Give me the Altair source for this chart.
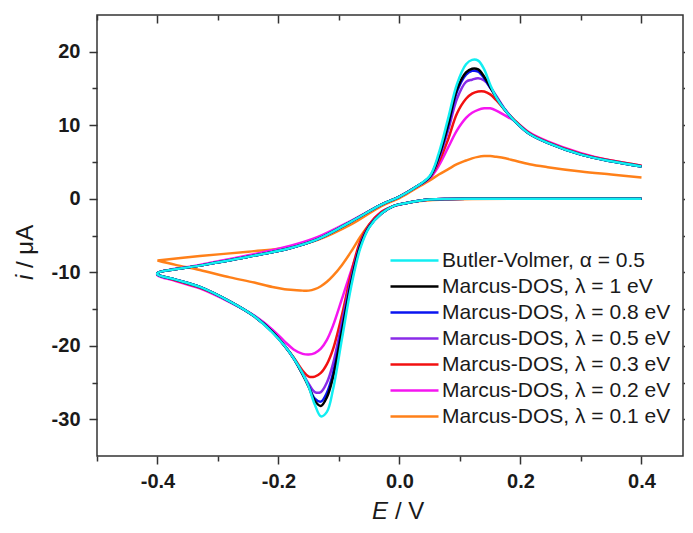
import altair as alt
import pandas as pd

SERIES = ["Butler-Volmer, α = 0.5", "Marcus-DOS, λ = 1 eV", "Marcus-DOS, λ = 0.8 eV",
          "Marcus-DOS, λ = 0.5 eV", "Marcus-DOS, λ = 0.3 eV", "Marcus-DOS, λ = 0.2 eV",
          "Marcus-DOS, λ = 0.1 eV"]
COLORS = ["#12EEF2", "#000000", "#0A14F0", "#8A2BE8", "#F21010", "#F516F0", "#FF8019"]

# reverse scan (0.4 V -> -0.4 V)
E_REV = [0.40, 0.30, 0.20, 0.12, 0.08, 0.05, 0.03, 0.01, -0.01, -0.03, -0.05, -0.065, -0.08,
         -0.095, -0.11, -0.12, -0.13, -0.14, -0.15, -0.16, -0.175, -0.19, -0.21, -0.24, -0.28,
         -0.33, -0.37, -0.40]
# forward scan (-0.4 V -> 0.4 V)
E_FWD = [-0.40, -0.33, -0.25, -0.18, -0.135, -0.08, -0.03, 0.0, 0.025, 0.05, 0.065, 0.08, 0.095,
         0.11, 0.12, 0.13, 0.14, 0.15, 0.16, 0.175, 0.19, 0.215, 0.245, 0.30, 0.35, 0.40]

BV_REV = [0, 0, 0, 0, -0.02, -0.1, -0.3, -0.6, -1.0, -2.0, -3.9, -6.8, -12.0, -19.0, -26.0, -29.0,
          -29.6, -28.0, -25.6, -23.8, -21.7, -20.0, -18.2, -16.0, -14.0, -12.0, -11.0, -10.3]
BV_FWD = [-10.1, -9.1, -7.9, -6.7, -5.5, -3.1, -0.8, 0.3, 1.5, 3.1, 6.2, 10.8, 15.6, 18.3, 18.9,
          18.8, 17.6, 15.5, 13.8, 12.0, 10.6, 8.8, 7.6, 6.0, 5.1, 4.4]

L10_REV = [0, 0, 0, 0, -0.02, -0.1, -0.3, -0.6, -1.0, -2.0, -3.8, -6.5, -11.5, -18.0, -24.3, -27.0,
           -28.2, -27.5, -25.6, -23.9, -21.7, -20.0, -18.1, -16.0, -14.0, -12.0, -11.0, -10.3]
L10_FWD = [-10.1, -9.1, -7.9, -6.7, -5.5, -3.1, -0.8, 0.3, 1.5, 3.0, 5.8, 10.0, 14.9, 17.2, 17.7,
           17.6, 16.6, 15.2, 13.8, 12.0, 10.6, 8.8, 7.6, 6.0, 5.1, 4.4]

L08_REV = [0, 0, 0, 0, -0.02, -0.1, -0.3, -0.6, -1.0, -2.0, -3.8, -6.4, -11.3, -17.6, -23.8, -26.4,
           -27.6, -27.2, -25.5, -23.9, -21.7, -20.0, -18.1, -16.0, -14.0, -12.0, -11.0, -10.3]
L08_FWD = [-10.1, -9.1, -7.9, -6.7, -5.5, -3.1, -0.8, 0.3, 1.5, 3.0, 5.7, 9.8, 14.6, 16.9, 17.4,
           17.3, 16.4, 15.1, 13.8, 12.0, 10.6, 8.8, 7.6, 6.0, 5.1, 4.4]

L05_REV = [0, 0, 0, 0, -0.02, -0.1, -0.3, -0.6, -1.0, -2.0, -3.7, -6.3, -11.0, -16.8, -22.5, -25.0,
           -26.3, -26.3, -25.2, -23.8, -21.7, -20.0, -18.1, -16.0, -14.0, -12.0, -11.0, -10.3]
L05_FWD = [-10.1, -9.1, -7.9, -6.7, -5.5, -3.1, -0.8, 0.3, 1.5, 2.9, 5.5, 9.2, 13.6, 15.9, 16.2,
           16.4, 16.1, 15.2, 14.0, 12.1, 10.6, 8.8, 7.6, 6.0, 5.1, 4.4]

L03_REV = [0, 0, 0, 0, -0.02, -0.1, -0.3, -0.6, -1.0, -1.8, -3.5, -5.8, -10.2, -15.8, -20.5, -22.5,
           -23.7, -24.2, -24.2, -23.4, -21.6, -20.0, -18.1, -16.0, -14.0, -12.1, -11.1, -10.3]
L03_FWD = [-10.1, -9.1, -7.9, -6.7, -5.5, -3.1, -0.8, 0.3, 1.5, 2.9, 5.0, 8.0, 11.6, 13.6, 14.3,
           14.6, 14.6, 14.2, 13.4, 12.0, 10.7, 8.9, 7.7, 6.1, 5.2, 4.5]

L02_REV = [0, 0, 0, 0, -0.02, -0.1, -0.3, -0.6, -1.0, -1.8, -3.6, -6.3, -9.8, -13.6, -17.3, -19.2,
           -20.4, -21.0, -21.2, -21.1, -20.5, -19.4, -17.8, -15.9, -14.1, -12.2, -11.2, -10.4]
L02_FWD = [-10.1, -9.0, -7.7, -6.4, -5.2, -3.0, -0.8, 0.3, 1.5, 2.8, 4.5, 6.9, 9.3, 11.0, 11.7,
           12.1, 12.3, 12.3, 12.0, 11.3, 10.6, 9.0, 7.8, 6.2, 5.2, 4.5]

L01_REV = [0, 0, 0, -0.02, -0.1, -0.2, -0.35, -0.6, -1.0, -2.0, -3.5, -5.2, -7.2, -9.0, -10.5,
           -11.3, -11.9, -12.3, -12.5, -12.5, -12.4, -12.3, -12.0, -11.4, -10.7, -9.7, -9.0, -8.4]
L01_FWD = [-8.4, -7.8, -7.2, -6.6, -5.6, -3.5, -1.0, 0.1, 1.3, 2.5, 3.3, 4.0, 4.7, 5.2, 5.5,
           5.7, 5.8, 5.8, 5.7, 5.5, 5.2, 4.7, 4.3, 3.7, 3.3, 2.9]

CURVES = {
    SERIES[6]: (L01_REV, L01_FWD),
    SERIES[5]: (L02_REV, L02_FWD),
    SERIES[4]: (L03_REV, L03_FWD),
    SERIES[3]: (L05_REV, L05_FWD),
    SERIES[2]: (L08_REV, L08_FWD),
    SERIES[1]: (L10_REV, L10_FWD),
    SERIES[0]: (BV_REV, BV_FWD),
}

rows = []
for name, (rev, fwd) in CURVES.items():
    k = 0
    for e, v in zip(E_REV, rev):
        rows.append({"series": name, "E": e, "i": v, "idx": k}); k += 1
    for e, v in zip(E_FWD, fwd):
        rows.append({"series": name, "E": e, "i": v, "idx": k}); k += 1
df = pd.DataFrame(rows)

X_MAJOR = [-0.4, -0.2, 0.0, 0.2, 0.4]
X_MINOR = [-0.5, -0.3, -0.1, 0.1, 0.3]
Y_MAJOR = [-30, -20, -10, 0, 10, 20]
Y_MINOR = [-25, -15, -5, 5, 15]

FONT = "Arial"
AX = "#333333"

def ax(orient, values, size, labels=False, offset=0, fmt=None, pad=6):
    kw = dict(orient=orient, values=values, tickSize=size, labels=labels, domain=False,
              title=None, grid=False, tickColor=AX, tickWidth=1.5, offset=offset)
    if labels:
        kw.update(labelFont=FONT, labelFontSize=20, labelFontWeight="bold", labelColor="#1a1a1a",
                  labelPadding=pad, format=fmt,
                  labelExpr="replace(datum.label, '\u2212', '-')")
    return alt.Axis(**kw)

base = alt.Chart(df)

lines = base.mark_line(strokeWidth=2.5, interpolate="catmull-rom").encode(
    x=alt.X("E:Q", scale=alt.Scale(domain=[-0.5, 0.4686], nice=False, zero=False),
            axis=ax("bottom", X_MAJOR, 8, labels=True, fmt=".1f", pad=7)),
    y=alt.Y("i:Q", scale=alt.Scale(domain=[-35, 25], nice=False, zero=False),
            axis=ax("left", Y_MAJOR, 8, labels=True, fmt="d", pad=9)),
    color=alt.Color("series:N", scale=alt.Scale(domain=SERIES, range=COLORS),
                    legend=alt.Legend(orient="none", legendX=304, legendY=232, title=None,
                                      symbolType="M-2,0H2", symbolSize=576, symbolStrokeWidth=2.5,
                                      labelFont=FONT, labelFontSize=21, labelColor="#1a1a1a",
                                      labelOffset=14, rowPadding=2, padding=0, labelLimit=400)),
    order="idx:Q",
)

def aux(xo, xv, xs, xoff, yo, yv, ys, yoff):
    return base.mark_line(strokeOpacity=0).encode(
        x=alt.X("E:Q", axis=ax(xo, xv, xs, offset=xoff)),
        y=alt.Y("i:Q", axis=ax(yo, yv, ys, offset=yoff)),
        detail="series:N", order="idx:Q",
    )

minor_bl = aux("bottom", X_MINOR, 5, 0, "left", Y_MINOR, 5, 0)
major_tr = aux("top", X_MAJOR, 8, -8, "right", Y_MAJOR, 6, 0)
minor_tr = aux("top", X_MINOR, 5, -5, "right", Y_MINOR, 4, 0)

def label(text, x, y, italic, angle=0, baseline="middle"):
    return alt.Chart(pd.DataFrame({"t": [text]})).mark_text(
        align="left", baseline=baseline, font=FONT, fontSize=24, angle=angle,
        fontStyle="italic" if italic else "normal", color="#1a1a1a",
    ).encode(x=alt.value(x), y=alt.value(y), text="t:N")

titles = [
    label("i", -71, 265, True, 270),
    label("/ μA", -71, 253, False, 270),
    label("E", 372, 504, True, 0, "alphabetic"),
    label("/ V", 395, 504, False, 0, "alphabetic"),
]
titles[2] = label("E", 275, 504, True, 0, "alphabetic")
titles[3] = label("/ V", 298, 504, False, 0, "alphabetic")

chart = alt.layer(lines, minor_bl, major_tr, minor_tr, *titles).resolve_axis(
    x="independent", y="independent"
).properties(
    width=586, height=441,
    padding={"left": 89, "top": 7, "right": 2, "bottom": 69},
    autosize=alt.AutoSizeParams(type="none"),
).configure_view(stroke=AX, strokeWidth=1.5)

chart.save("out.html", embed_options={"renderer": "svg", "actions": False})
